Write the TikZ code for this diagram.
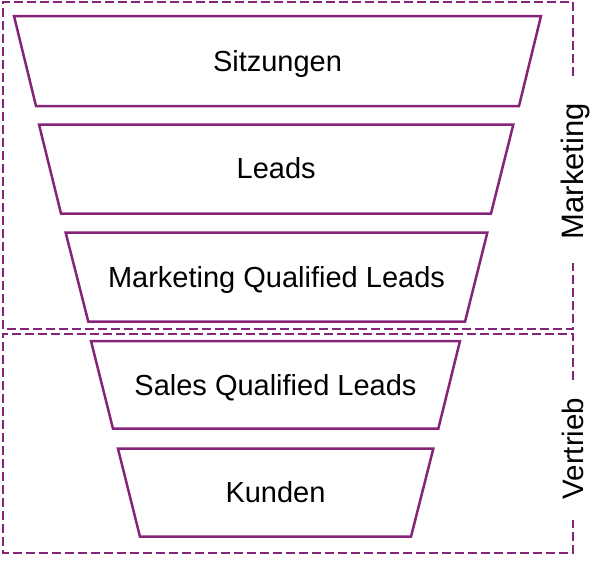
\documentclass[tikz,border=0pt]{standalone}
\usepackage{fontspec}
\setmainfont{Liberation Sans}
\definecolor{funnel}{RGB}{134,36,122}
\begin{document}
\begin{tikzpicture}[x=1pt,y=-1pt,
  stage/.style={draw=funnel,line width=2.5pt,line join=miter},
  group/.style={draw=funnel,line width=2.5pt,dash pattern=on 9pt off 4pt},
  stagetext/.style={anchor=base,inner sep=0pt,font=\fontsize{29}{35}\selectfont},
  grouptext/.style={anchor=base,inner sep=0pt,rotate=90}]
\useasboundingbox (0,0) rectangle (610,560);
% group frames
\draw[group] (573,76) -- (573,2) -- (3,2) -- (3,329) -- (573,329) -- (573,263);
\draw[group] (573,380) -- (573,334) -- (3,334) -- (3,553) -- (573,553) -- (573,520);
% funnel stages
\draw[stage] (14,16) -- (541,16) -- (519,106) -- (36,106) -- cycle;
\draw[stage] (39,124.5) -- (513.3,124.5) -- (491,213.5) -- (61,213.5) -- cycle;
\draw[stage] (65.7,232.7) -- (487.3,232.7) -- (465,321.7) -- (88.3,321.7) -- cycle;
\draw[stage] (91,341) -- (460,341) -- (438.3,428.7) -- (113,428.7) -- cycle;
\draw[stage] (118,448.7) -- (433.3,448.7) -- (411,536.7) -- (140,536.7) -- cycle;
% labels
\node[stagetext] (t1) at (277.5,71.5) {Sitzungen};
\node[stagetext] (t2) at (276.2,178.5) {Leads};
\node[stagetext] (t3) at (276.5,287.2) {Marketing Qualified Leads};
\node[stagetext] (t4) at (275.5,395) {Sales Qualified Leads};
\node[stagetext] (t5) at (275.5,502.7) {Kunden};
\node[grouptext,font=\fontsize{31}{37}\selectfont] (g1) at (583.3,171.2) {Marketing};
\node[grouptext,font=\fontsize{29.5}{35}\selectfont] (g2) at (583.3,448.5) {Vertrieb};
\end{tikzpicture}
\end{document}
